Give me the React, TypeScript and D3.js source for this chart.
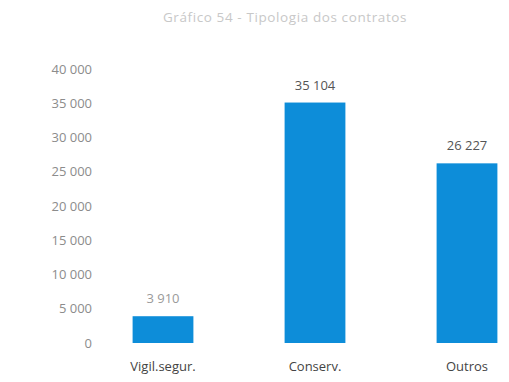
import React from "react";
import * as d3 from "d3";

const categories = ["Vigil.segur.", "Conserv.", "Outros"];
const values = [3910, 35104, 26227];
const yTicks = [0, 5000, 10000, 15000, 20000, 25000, 30000, 35000, 40000];
const title = "Gráfico 54 - Tipologia dos contratos";

const W = 509;
const H = 382;

const fmt = (v: number) =>
  String(v).replace(/\B(?=(\d{3})+(?!\d))/g, " ");

export default function App() {
  const x = d3
    .scaleBand<string>()
    .domain(categories)
    .range([87, 543])
    .paddingInner(0.6)
    .paddingOuter(0.3);
  const y = d3.scaleLinear().domain([0, 40000]).range([343, 69]);

  const font = "'Open Sans', 'Liberation Sans', sans-serif";

  return (
    <svg
      width={W}
      height={H}
      style={{ position: "absolute", left: 0, top: 0, background: "#fff" }}
      fontFamily={font}
    >
      <text
        x={285}
        y={22}
        textAnchor="middle"
        fontSize={13.5}
        letterSpacing={0.6}
        fill="#c8c8c8"
      >
        {title}
      </text>
      {yTicks.map((t) => (
        <text
          key={t}
          x={92}
          y={y(t)}
          dy="0.35em"
          textAnchor="end"
          fontSize={13}
          fill="#8c8c8c"
        >
          {fmt(t)}
        </text>
      ))}
      {categories.map((c, i) => {
        const x0 = x(c)!;
        const bw = x.bandwidth();
        return (
          <g key={c}>
            <rect
              x={x0}
              y={y(values[i])}
              width={bw}
              height={y(0) - y(values[i])}
              fill="#0d8dd9"
            />
            <text
              x={x0 + bw / 2}
              y={y(values[i]) - 13}
              textAnchor="middle"
              fontSize={13}
              fill={i === 0 ? "#9a9a9a" : "#555"}
            >
              {fmt(values[i])}
            </text>
            <text
              x={x0 + bw / 2}
              y={371}
              textAnchor="middle"
              fontSize={13}
              fill="#444"
            >
              {c}
            </text>
          </g>
        );
      })}
    </svg>
  );
}
